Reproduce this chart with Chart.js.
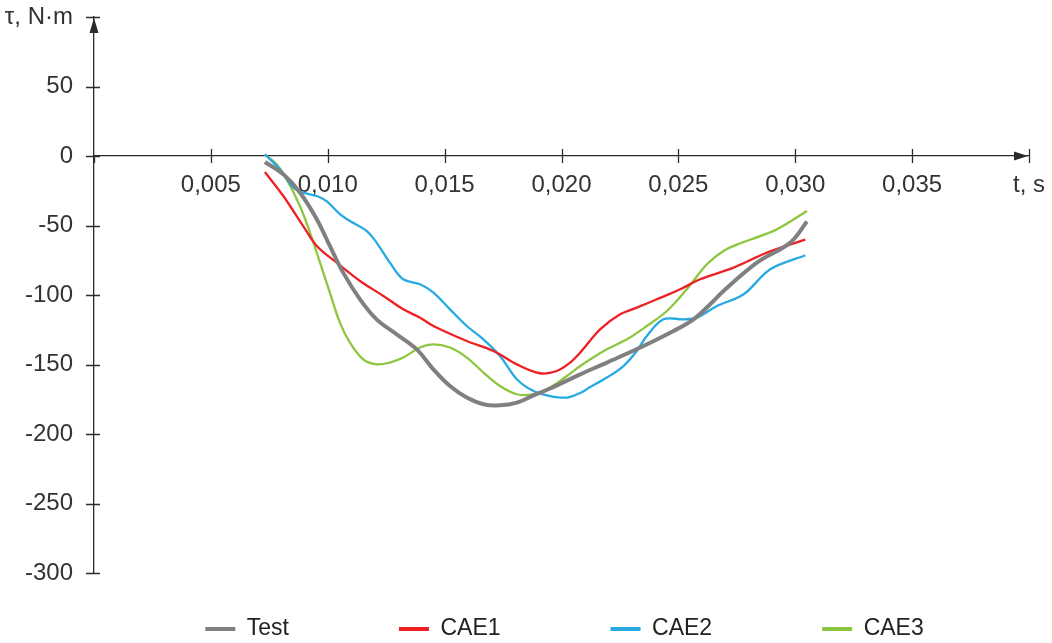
<!DOCTYPE html>
<html><head><meta charset="utf-8">
<script src="https://cdn.jsdelivr.net/npm/chart.js@4.4.0/dist/chart.umd.min.js"></script>
<style>html,body{margin:0;padding:0;background:#fff;overflow:hidden}canvas{display:block}</style>
</head><body>
<canvas id="c" width="1052" height="643"></canvas>
<script>
// ---- data (time in s, torque in N·m) ----
const seriesNames = ['Test', 'CAE1', 'CAE2', 'CAE3'];
const xLabelUnit = 't, s';
const yLabelUnit = 'τ, N·m';

const testT = [0.00731,0.00810,0.00881,0.00953,0.01009,0.01066,0.01138,0.01209,0.01295,0.01381,0.01452,0.01523,0.01595,0.01666,0.01737,0.01809,0.01880,0.01951,0.02080,0.02194,0.02337,0.02479,0.02565,0.02636,0.02693,0.02836,0.02979,0.03050];
const testV = [-4.3,-13.2,-26.3,-45.5,-64.7,-83.9,-103.1,-117.5,-128.3,-139.1,-153.5,-165.5,-173.8,-178.6,-179.4,-177.4,-172.2,-167.3,-157.1,-148.6,-137.8,-125.9,-117.5,-106.7,-97.1,-76.7,-62.3,-47.2];

const cae1T = [0.00731,0.00810,0.00895,0.00953,0.01038,0.01138,0.01238,0.01323,0.01395,0.01452,0.01595,0.01709,0.01809,0.01908,0.01980,0.02037,0.02080,0.02165,0.02251,0.02322,0.02408,0.02508,0.02593,0.02736,0.02879,0.03043];
const cae1V = [-11.5,-28.8,-50.4,-64.7,-76.7,-89.9,-100.7,-110.3,-116.3,-122.3,-133.1,-140.3,-149.9,-156.3,-154.7,-148.6,-141.4,-124.7,-113.9,-109.1,-103.1,-95.9,-88.7,-80.3,-69.5,-60.1];

const cae2T = [0.00731,0.00795,0.00852,0.00895,0.00953,0.00995,0.01052,0.01095,0.01167,0.01209,0.01266,0.01323,0.01395,0.01452,0.01523,0.01595,0.01666,0.01737,0.01809,0.01880,0.01951,0.02023,0.02080,0.02119,0.02194,0.02265,0.02322,0.02365,0.02436,0.02522,0.02579,0.02665,0.02779,0.02893,0.03043];
const cae2V = [1.2,-9.6,-22.7,-26.3,-28.8,-32.4,-41.9,-46.8,-54.0,-62.3,-76.7,-88.7,-92.3,-98.3,-110.3,-122.3,-131.9,-143.9,-160.6,-169.1,-172.7,-173.8,-170.5,-166.6,-159.4,-151.1,-140.3,-129.5,-117.5,-117.5,-116.3,-107.9,-99.5,-81.5,-71.4];

const cae3T = [0.00731,0.00781,0.00824,0.00881,0.00924,0.00967,0.01009,0.01052,0.01095,0.01152,0.01209,0.01266,0.01323,0.01395,0.01452,0.01523,0.01595,0.01666,0.01737,0.01809,0.01880,0.01951,0.02023,0.02080,0.02194,0.02280,0.02365,0.02451,0.02536,0.02622,0.02693,0.02765,0.02850,0.02922,0.03050];
const cae3V = [1.2,-6.0,-16.7,-36.0,-55.1,-76.7,-98.3,-119.9,-134.2,-146.3,-149.9,-148.6,-145.0,-137.8,-135.5,-137.8,-145.0,-155.8,-165.5,-171.4,-171.4,-166.6,-158.3,-151.1,-139.1,-131.9,-122.3,-111.5,-95.9,-77.9,-68.3,-62.8,-57.6,-52.7,-39.6];

const xMin = 0, xMax = 0.04, xStep = 0.005;
const yMin = -300, yMax = 100, yStep = 50;

// ---- styles ----
const colors = ['#808080', '#ee2024', '#27aae1', '#8dc63f'];
const widths = [4, 2.3, 2.3, 2.3];
const axisColor = '#2b2b2b';
const textColor = '#333333';
const FONT = '"Liberation Sans", Arial, sans-serif';

const allT = [testT, cae1T, cae2T, cae3T];
const allV = [testV, cae1V, cae2V, cae3V];

const datasets = seriesNames.map((name, i) => ({
  label: name,
  data: allT[i].map((t, k) => ({ x: t, y: allV[i][k] })),
  borderColor: colors[i],
  backgroundColor: colors[i],
  borderWidth: widths[i],
  pointRadius: 0,
  tension: 0.35,
  fill: false
}));

const LEGEND_PAD = 110;
const LEGEND_FONT = 23;
const LEGEND_CENTER_Y = 629;

const axisDecor = {
  id: 'axisDecor',
  afterLayout(chart) {
    const lg = chart.legend;
    if (lg) {
      lg.top = LEGEND_CENTER_Y - LEGEND_PAD - LEGEND_FONT / 2;
      lg.bottom = chart.height;
    }
  },
  afterDraw(chart) {
    const ctx = chart.ctx;
    const xs = chart.scales.x, ys = chart.scales.y;
    const x0 = xs.getPixelForValue(0);
    const y0 = ys.getPixelForValue(0);
    ctx.save();
    ctx.strokeStyle = axisColor;
    ctx.fillStyle = axisColor;
    ctx.lineWidth = 1.3;
    ctx.beginPath();
    ys.ticks.forEach(t => {
      const y = Math.round(ys.getPixelForValue(t.value)) + 0.5;
      ctx.moveTo(x0 - 8, y); ctx.lineTo(x0 + 6, y);
    });
    xs.ticks.forEach(t => {
      const x = Math.round(xs.getPixelForValue(t.value)) + 0.5;
      if (t.value === 0) { ctx.moveTo(x, y0); ctx.lineTo(x, y0 + 7); }
      else { ctx.moveTo(x, y0 - 7); ctx.lineTo(x, y0 + 7); }
    });
    ctx.stroke();
    // arrows
    const yTop = ys.getPixelForValue(yMax);
    ctx.beginPath();
    ctx.moveTo(x0, yTop + 1);
    ctx.lineTo(x0 - 4.5, yTop + 16);
    ctx.lineTo(x0 + 4.5, yTop + 16);
    ctx.closePath(); ctx.fill();
    const xEnd = xs.getPixelForValue(xMax);
    ctx.beginPath();
    ctx.moveTo(xEnd - 1, y0);
    ctx.lineTo(xEnd - 15, y0 - 4.5);
    ctx.lineTo(xEnd - 15, y0 + 4.5);
    ctx.closePath(); ctx.fill();
    ctx.restore();
  }
};

new Chart(document.getElementById('c'), {
  type: 'line',
  data: { datasets },
  plugins: [axisDecor],
  options: {
    responsive: false,
    animation: false,
    devicePixelRatio: 1,
    layout: { padding: { left: 0, right: -77, top: 17, bottom: 20 } },
    plugins: {
      tooltip: { enabled: false },
      legend: {
        position: 'bottom',
        fullSize: true,
        maxHeight: 50,
        labels: {
          color: '#222',
          font: { family: FONT, size: LEGEND_FONT },
          boxWidth: 30,
          boxHeight: 4,
          padding: LEGEND_PAD,
          generateLabels(chart) {
            return Chart.defaults.plugins.legend.labels.generateLabels(chart).map(l => ({
              ...l, fillStyle: l.strokeStyle, lineWidth: 0
            }));
          }
        }
      }
    },
    scales: {
      x: {
        type: 'linear',
        position: { y: 0 },
        min: xMin, max: xMax,
        grid: { display: true, drawOnChartArea: false, drawTicks: false },
        border: { display: true, color: axisColor, width: 1.3 },
        ticks: {
          stepSize: xStep,
          autoSkip: false,
          maxRotation: 0,
          padding: 15,
          color: textColor,
          font: { family: FONT, size: 24 },
          callback(v) {
            if (Math.abs(v) < 1e-9) return '';
            if (Math.abs(v - xMax) < 1e-9) return xLabelUnit;
            return v.toFixed(3).replace('.', ',');
          }
        },
        afterFit(s) { s.paddingRight = 23; s.paddingLeft = 0; }
      },
      y: {
        type: 'linear',
        min: yMin, max: yMax,
        grid: { display: true, drawOnChartArea: false, drawTicks: false },
        border: { display: true, color: axisColor, width: 1.3 },
        ticks: {
          stepSize: yStep,
          padding: 21,
          color: textColor,
          font: { family: FONT, size: 24 },
          callback(v) {
            if (Math.abs(v - yMax) < 1e-9) return yLabelUnit;
            return String(v);
          }
        },
        afterFit(s) { s.width = 94; s.paddingTop = 0; s.paddingBottom = 0; }
      }
    }
  }
});
</script>
</body></html>
